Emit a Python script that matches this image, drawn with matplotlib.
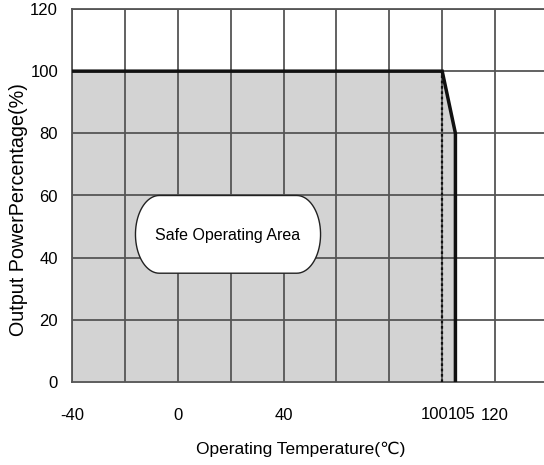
import numpy as np
import matplotlib.pyplot as plt
from matplotlib.patches import Polygon

plt.rcParams['font.family'] = ['Liberation Sans', 'DejaVu Sans']

# derating curve
temps = [-40, 100, 105, 105]
power = [100, 100, 80, 0]

x_ticks = [-40, 0, 40, 120]
x_tick_labels = ['-40', '0', '40', '120']
close_ticks = [100, 105]
close_labels = ['100', '105']
y_ticks = [0, 20, 40, 60, 80, 100, 120]
grid_x = [-40, -20, 0, 20, 40, 60, 80, 100, 120]
grid_y = [20, 40, 60, 80, 100, 120]

fig = plt.figure(figsize=(5.44, 4.65), dpi=100)
ax = fig.add_axes([72 / 544, 83 / 465, 1 - 72 / 544, 373 / 465])
ax.set_xlim(-40, 138.5)
ax.set_ylim(0, 120)

# grey area under the curve
ax.fill_between(temps, power, 0, color='#d3d3d3', zorder=1)

# grid
for gx in grid_x:
    ax.axvline(gx, color='#555555', lw=1.3, zorder=2)
for gy in grid_y:
    ax.axhline(gy, color='#555555', lw=1.3, zorder=2)

# curve and dotted line at 100
ax.plot(temps, power, color='#111111', lw=2.5, zorder=4, solid_joinstyle='miter')
ax.plot([100, 100], [0, 100], color='#111111', lw=1.6, ls=(0, (1.2, 1.2)), zorder=4)

# label box (stadium shape)
x0, x1, y0, y1 = -16, 54, 35, 60
rx, ry = 9, (y1 - y0) / 2
yc = (y0 + y1) / 2
t_r = np.linspace(-np.pi / 2, np.pi / 2, 40)
t_l = np.linspace(np.pi / 2, 3 * np.pi / 2, 40)
pts = np.vstack([
    np.column_stack([x1 - rx + rx * np.cos(t_r), yc + ry * np.sin(t_r)]),
    np.column_stack([x0 + rx + rx * np.cos(t_l), yc + ry * np.sin(t_l)]),
])
ax.add_patch(Polygon(pts, closed=True, facecolor='white', edgecolor='#222222',
                     lw=1.0, zorder=5))
ax.text(19, 47, 'Safe Operating Area', ha='center', va='center', fontsize=11.5, zorder=6)

ax.set_xticks(x_ticks)
ax.set_xticklabels(x_tick_labels)
ax.set_yticks(y_ticks)
ax.tick_params(length=0, labelsize=12)
ax.tick_params(axis='x', pad=19)
ax.tick_params(axis='y', pad=10)

# 100 and 105 sit close together, nudge them apart
for xv, lab, dx in zip(close_ticks, close_labels, [-2.8, 2.2]):
    ax.text(xv + dx, -10.6, lab, ha='center', va='center', fontsize=12)

for side in ['top', 'left', 'bottom']:
    ax.spines[side].set_color('#555555')
    ax.spines[side].set_linewidth(1.3)
ax.spines['right'].set_visible(False)

ax.set_xlabel('Operating Temperature(\u2103)', fontsize=12.5)
ax.set_ylabel('Output PowerPercentage(%)', fontsize=14.2)
ax.xaxis.set_label_coords(0.484, -0.161)
ax.yaxis.set_label_coords(-0.094, 0.462)

fig.savefig('out.png', dpi=100)
